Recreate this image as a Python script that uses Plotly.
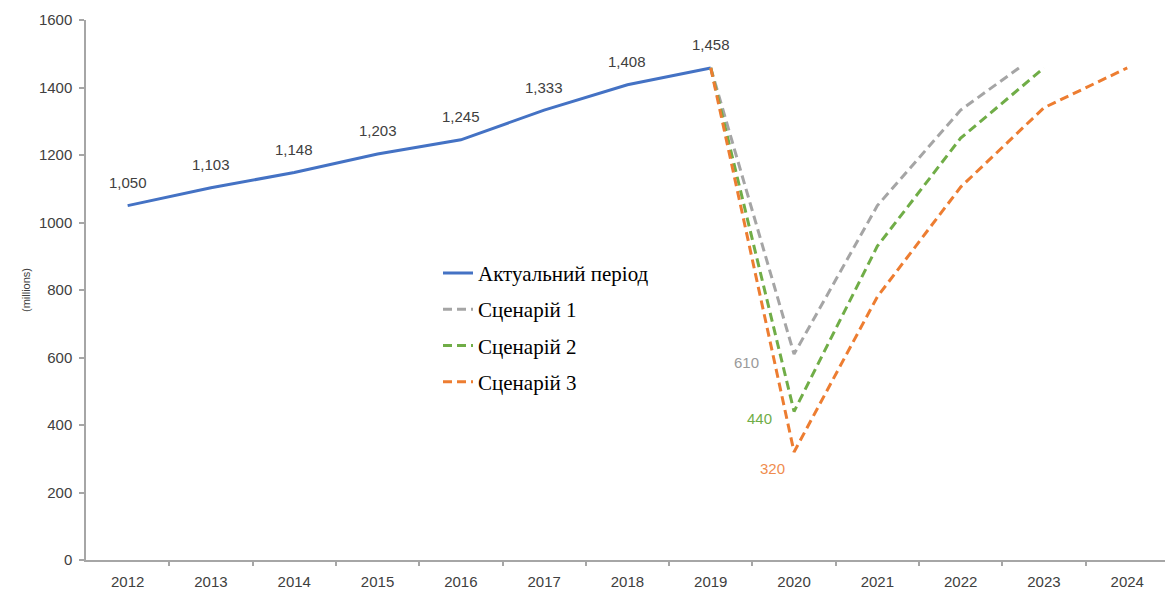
import plotly.graph_objects as go

years = list(range(2012, 2025))
actual_x = [2012, 2013, 2014, 2015, 2016, 2017, 2018, 2019]
actual_y = [1050, 1103, 1148, 1203, 1245, 1333, 1408, 1458]
actual_labels = ["1,050", "1,103", "1,148", "1,203", "1,245", "1,333", "1,408", "1,458"]

s1_x = [2019, 2020, 2021, 2022, 2022.7]
s1_y = [1458, 610, 1050, 1333, 1458]
s2_x = [2019, 2020, 2021, 2022, 2023]
s2_y = [1458, 440, 930, 1250, 1458]
s3_x = [2019, 2020, 2021, 2022, 2023, 2024]
s3_y = [1458, 320, 780, 1105, 1340, 1458]

names = ["Актуальний період", "Сценарій 1", "Сценарій 2", "Сценарій 3"]
min_labels = ["610", "440", "320"]

BLUE = "#4472C4"
GRAY = "#A5A5A5"
GREEN = "#70AD47"
ORANGE = "#ED7D31"
AXIS = "#a6a6a6"
DASH = "9px,5px"

fig = go.Figure()
fig.add_trace(go.Scatter(x=actual_x, y=actual_y, mode="lines", name=names[0],
                         legendgroup="a", line=dict(color=BLUE, width=3)))
fig.add_trace(go.Scatter(x=s1_x, y=s1_y, mode="lines", name=names[1],
                         legendgroup="b", line=dict(color=GRAY, width=3, dash=DASH)))
fig.add_trace(go.Scatter(x=s2_x, y=s2_y, mode="lines", name=names[2],
                         legendgroup="c", line=dict(color=GREEN, width=3, dash=DASH)))
fig.add_trace(go.Scatter(x=s3_x, y=s3_y, mode="lines", name=names[3],
                         legendgroup="d", line=dict(color=ORANGE, width=3, dash=DASH)))

annotations = []
for xv, yv, t in zip(actual_x, actual_y, actual_labels):
    annotations.append(dict(x=xv, y=yv, text=t, showarrow=False, yshift=23,
                            font=dict(family="Liberation Sans, Arial", size=15, color="#404040")))

min_specs = [
    (s1_y[1], min_labels[0], "#9a9a9a", -48, -8),
    (s2_y[1], min_labels[1], GREEN, -35, -7),
    (s3_y[1], min_labels[2], "#F08C4E", -22, -16),
]
for yv, t, c, xs, ys in min_specs:
    annotations.append(dict(x=2020, y=yv, text=t, showarrow=False, xshift=xs, yshift=ys,
                            font=dict(family="Liberation Sans, Arial", size=15, color=c)))

annotations.append(dict(xref="paper", yref="paper", x=(18 - 86) / 1079, y=0.5,
                        text="(millions)", showarrow=False, textangle=-90,
                        font=dict(family="Liberation Sans, Arial", size=11, color="#404040")))

fig.update_layout(
    width=1165, height=592,
    margin=dict(l=86, r=0, t=20, b=32),
    paper_bgcolor="white", plot_bgcolor="white",
    hovermode=False,
    annotations=annotations,
    legend=dict(x=(438 - 86) / 1079, y=(560.5 - 253) / 540.5, xanchor="left", yanchor="top",
                bgcolor="rgba(0,0,0,0)", tracegroupgap=6,
                font=dict(family="Liberation Serif, Times New Roman", size=21, color="#000000")),
    xaxis=dict(range=[2011.5, 2011.5 + 1079 / 83.3], tickmode="array", tickvals=years,
               ticktext=[str(y) for y in years], showgrid=False, zeroline=False,
               showline=True, linecolor=AXIS, linewidth=1.5,
               ticks="outside", ticklen=7, tickcolor="rgba(0,0,0,0)",
               tickfont=dict(family="Liberation Sans, Arial", size=15, color="#404040"),
               minor=dict(tickmode="array", tickvals=[y + 0.5 for y in years[:-1]],
                          ticks="outside", ticklen=4, tickcolor=AXIS, tickwidth=1.5,
                          showgrid=False)),
    yaxis=dict(range=[0, 1600], tickmode="array", tickvals=list(range(0, 1601, 200)),
               showgrid=False, zeroline=False, showline=True, linecolor=AXIS, linewidth=1.5,
               ticks="outside", ticklen=5, tickcolor=AXIS, tickwidth=1.5,
               ticklabelstandoff=4,
               tickfont=dict(family="Liberation Sans, Arial", size=15, color="#404040")),
)

fig.write_html("out.html", config={"displayModeBar": False},
               post_script="document.body.style.margin='0px';document.body.style.overflow='hidden';")
